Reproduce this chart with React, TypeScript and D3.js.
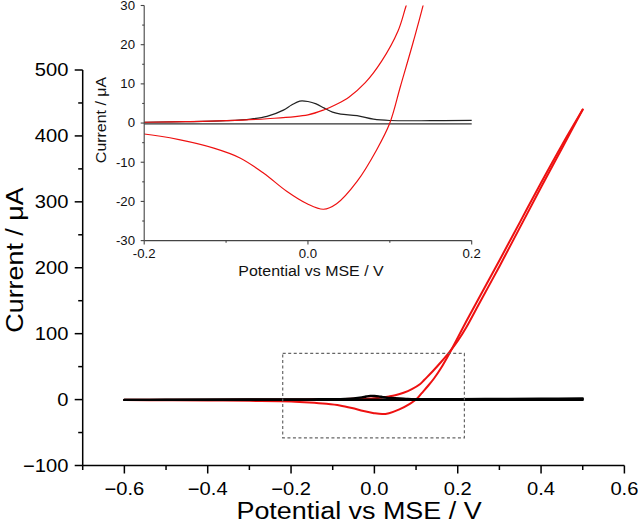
import React from "react";
import * as d3 from "d3";

// ---- data (Potential vs MSE / V, Current / µA) ----
const redFwdX = [-0.6, -0.5, -0.4, -0.3, -0.2, -0.15, -0.1, -0.05, 0.0, 0.02, 0.035, 0.05, 0.07, 0.09, 0.11, 0.12, 0.14, 0.16, 0.18, 0.2, 0.22, 0.25, 0.3, 0.35, 0.4, 0.45, 0.5];
const redFwdY = [-0.3, -0.2, -0.1, 0.05, 0.2, 0.35, 0.6, 1.1, 2.1, 3.4, 4.8, 6.6, 10.3, 15.8, 23.5, 30.0, 43, 57, 72, 89, 109, 144, 202, 262, 322, 381, 440];

const redRevX = [-0.6, -0.5, -0.4, -0.3, -0.2, -0.156, -0.115, -0.083, -0.054, -0.026, -0.001, 0.019, 0.035, 0.06, 0.084, 0.1, 0.113, 0.129, 0.143, 0.16, 0.18, 0.2, 0.22, 0.25, 0.3, 0.35, 0.4, 0.45, 0.5];
const redRevY = [-0.8, -1.0, -1.3, -1.9, -2.8, -4.3, -6.4, -8.9, -12.8, -17.4, -20.6, -22.0, -20.6, -14.9, -6.8, 0, 9.4, 21, 32, 48, 70, 94, 118, 153, 211, 270, 329, 386, 440];

const blackFwdX = [-0.6, -0.5, -0.4, -0.3, -0.2, -0.15, -0.1, -0.07, -0.05, -0.03, -0.02, -0.01, 0.0, 0.01, 0.02, 0.03, 0.04, 0.06, 0.08, 0.1, 0.15, 0.2, 0.3, 0.4, 0.5];
const blackFwdY = [-0.5, -0.3, -0.1, 0.1, 0.2, 0.35, 0.6, 1.0, 1.7, 3.3, 4.6, 5.6, 5.5, 4.9, 3.8, 2.8, 2.3, 1.9, 1.0, 0.65, 0.6, 0.7, 0.9, 1.2, 1.6];

const blackRevX = [-0.6, -0.4, -0.2, 0.0, 0.2, 0.4, 0.5];
const blackRevY = [-0.5, -0.3, -0.2, -0.2, -0.2, -0.2, -0.2];

const mainXTicks = [-0.6, -0.4, -0.2, 0.0, 0.2, 0.4, 0.6];
const mainXTickLabels = ["\u22120.6", "\u22120.4", "\u22120.2", "0.0", "0.2", "0.4", "0.6"];
const mainXMinor = [-0.7, -0.5, -0.3, -0.1, 0.1, 0.3, 0.5];
const mainYTicks = [-100, 0, 100, 200, 300, 400, 500];
const mainYTickLabels = ["\u2212100", "0", "100", "200", "300", "400", "500"];
const mainYMinor = [-50, 50, 150, 250, 350, 450];

const insetXTicks = [-0.2, 0.0, 0.2];
const insetXTickLabels = ["-0.2", "0.0", "0.2"];
const insetXMinor = [-0.1, 0.1];
const insetYTicks = [-30, -20, -10, 0, 10, 20, 30];
const insetYTickLabels = ["-30", "-20", "-10", "0", "10", "20", "30"];
const insetYMinor = [-25, -15, -5, 5, 15, 25];

const zoomBoxX = [-0.22, 0.216];
const zoomBoxY = [-58, 70];

const xTitle = "Potential vs MSE / V";
const yTitle = "Current / \u03bcA";

const RED = "#ee1111";
const FONT = "'Liberation Sans', Arial, Helvetica, sans-serif";

function pts(xs: number[], ys: number[]): [number, number][] {
  return xs.map((x, i) => [x, ys[i]]);
}

type TProps = {
  x: number;
  y: number;
  size: number;
  sx?: number;
  rot?: number;
  anchor?: "start" | "middle" | "end";
  dy?: string;
  fill?: string;
  children: React.ReactNode;
};

function T({ x, y, size, sx = 1.12, rot = 0, anchor = "middle", dy, fill = "#000", children }: TProps) {
  return (
    <g transform={`translate(${x},${y}) rotate(${rot}) scale(${sx},1)`}>
      <text x={0} y={0} dy={dy} textAnchor={anchor} fontSize={size} fill={fill}>
        {children}
      </text>
    </g>
  );
}

export default function App() {
  const mx = d3.scaleLinear().domain([-0.7, 0.6]).range([82.7, 624.4]);
  const my = d3.scaleLinear().domain([-100, 500]).range([465.5, 70]);
  const ix = d3.scaleLinear().domain([-0.2, 0.2]).range([144.2, 471.7]);
  const iy = d3.scaleLinear().domain([-30, 30]).range([240.6, 5.5]);

  const mainLine = d3
    .line<[number, number]>()
    .x((d) => mx(d[0]))
    .y((d) => my(d[1]))
    .curve(d3.curveCatmullRom.alpha(0.5));
  const insetLine = d3
    .line<[number, number]>()
    .x((d) => ix(d[0]))
    .y((d) => iy(d[1]))
    .curve(d3.curveCatmullRom.alpha(0.5));

  const redF = pts(redFwdX, redFwdY);
  const redR = pts(redRevX, redRevY);
  const blkF = pts(blackFwdX, blackFwdY);
  const blkR = pts(blackRevX, blackRevY);

  const mxAxisY = my(-100);
  const myAxisX = mx(-0.7);
  const ixAxisY = iy(-30);
  const iyAxisX = ix(-0.2);

  return (
    <svg
      width={638}
      height={525}
      style={{ position: "absolute", left: 0, top: 0, background: "#fff" }}
      fontFamily={FONT}
    >
      <defs>
        <clipPath id="insetClip">
          <rect x={ix(-0.2)} y={iy(30)} width={ix(0.2) - ix(-0.2)} height={iy(-30) - iy(30)} />
        </clipPath>
        <clipPath id="mainClip">
          <rect x={mx(-0.7)} y={my(500) - 5} width={mx(0.6) - mx(-0.7)} height={my(-100) - my(500) + 5} />
        </clipPath>
      </defs>

      {/* main curves */}
      <g clipPath="url(#mainClip)" fill="none" strokeLinejoin="round" strokeLinecap="round">
        <path d={mainLine(redF) || ""} stroke={RED} strokeWidth={2} />
        <path d={mainLine(redR) || ""} stroke={RED} strokeWidth={2} />
        <path d={mainLine(blkR) || ""} stroke="#000" strokeWidth={2.4} />
        <path d={mainLine(blkF) || ""} stroke="#000" strokeWidth={2.4} />
      </g>

      {/* zoom box */}
      <rect
        x={mx(zoomBoxX[0])}
        y={my(zoomBoxY[1])}
        width={mx(zoomBoxX[1]) - mx(zoomBoxX[0])}
        height={my(zoomBoxY[0]) - my(zoomBoxY[1])}
        fill="none"
        stroke="#666"
        strokeWidth={1.2}
        strokeDasharray="3,2.5"
      />

      {/* main axes */}
      <g stroke="#000" strokeWidth={1.5}>
        <line x1={myAxisX} x2={mx(0.6)} y1={mxAxisY} y2={mxAxisY} />
        <line x1={myAxisX} x2={myAxisX} y1={my(500)} y2={mxAxisY} />
        {mainXTicks.map((t) => (
          <line key={"mxt" + t} x1={mx(t)} x2={mx(t)} y1={mxAxisY} y2={mxAxisY + 8} />
        ))}
        {mainXMinor.map((t) => (
          <line key={"mxm" + t} x1={mx(t)} x2={mx(t)} y1={mxAxisY} y2={mxAxisY + 4.5} />
        ))}
        {mainYTicks.map((t) => (
          <line key={"myt" + t} x1={myAxisX - 8} x2={myAxisX} y1={my(t)} y2={my(t)} />
        ))}
        {mainYMinor.map((t) => (
          <line key={"mym" + t} x1={myAxisX - 4.5} x2={myAxisX} y1={my(t)} y2={my(t)} />
        ))}
      </g>
      {mainXTicks.map((t, i) => (
        <T key={"mxl" + t} x={mx(t)} y={494.5} size={18}>
          {mainXTickLabels[i]}
        </T>
      ))}
      {mainYTicks.map((t, i) => (
        <T key={"myl" + t} x={68.5} y={my(t)} dy="0.36em" anchor="end" size={18}>
          {mainYTickLabels[i]}
        </T>
      ))}
      <T x={359} y={519} size={23} sx={1.17}>
        {xTitle}
      </T>
      <T x={22.5} y={260} rot={-90} size={24}>
        {yTitle}
      </T>

      {/* inset curves */}
      <g clipPath="url(#insetClip)" fill="none" strokeLinejoin="round">
        <path d={insetLine(blkR) || ""} stroke="#333" strokeWidth={1.3} />
        <path d={insetLine(blkF) || ""} stroke="#222" strokeWidth={1.2} />
        <path d={insetLine(redF) || ""} stroke={RED} strokeWidth={1.2} />
        <path d={insetLine(redR) || ""} stroke={RED} strokeWidth={1.2} />
      </g>

      {/* inset axes */}
      <g stroke="#444" strokeWidth={1.1}>
        <line x1={iyAxisX} x2={ix(0.2)} y1={ixAxisY} y2={ixAxisY} />
        <line x1={iyAxisX} x2={iyAxisX} y1={iy(30)} y2={ixAxisY} />
        {insetXTicks.map((t) => (
          <line key={"ixt" + t} x1={ix(t)} x2={ix(t)} y1={ixAxisY} y2={ixAxisY + 4} />
        ))}
        {insetXMinor.map((t) => (
          <line key={"ixm" + t} x1={ix(t)} x2={ix(t)} y1={ixAxisY} y2={ixAxisY + 2.2} />
        ))}
        {insetYTicks.map((t) => (
          <line key={"iyt" + t} x1={iyAxisX - 3.5} x2={iyAxisX} y1={iy(t)} y2={iy(t)} />
        ))}
        {insetYMinor.map((t) => (
          <line key={"iym" + t} x1={iyAxisX - 2} x2={iyAxisX} y1={iy(t)} y2={iy(t)} />
        ))}
      </g>
      {insetXTicks.map((t, i) => (
        <T key={"ixl" + t} x={ix(t)} y={258} size={12} sx={1.1} fill="#111">
          {insetXTickLabels[i]}
        </T>
      ))}
      {insetYTicks.map((t, i) => (
        <T key={"iyl" + t} x={135} y={iy(t)} dy="0.36em" anchor="end" size={12} sx={1.1} fill="#111">
          {insetYTickLabels[i]}
        </T>
      ))}
      <T x={311} y={276} size={14.5} sx={1.1} fill="#111">
        {xTitle}
      </T>
      <T x={106} y={120} rot={-90} size={14.5} sx={1.1} fill="#111">
        {yTitle}
      </T>
    </svg>
  );
}
